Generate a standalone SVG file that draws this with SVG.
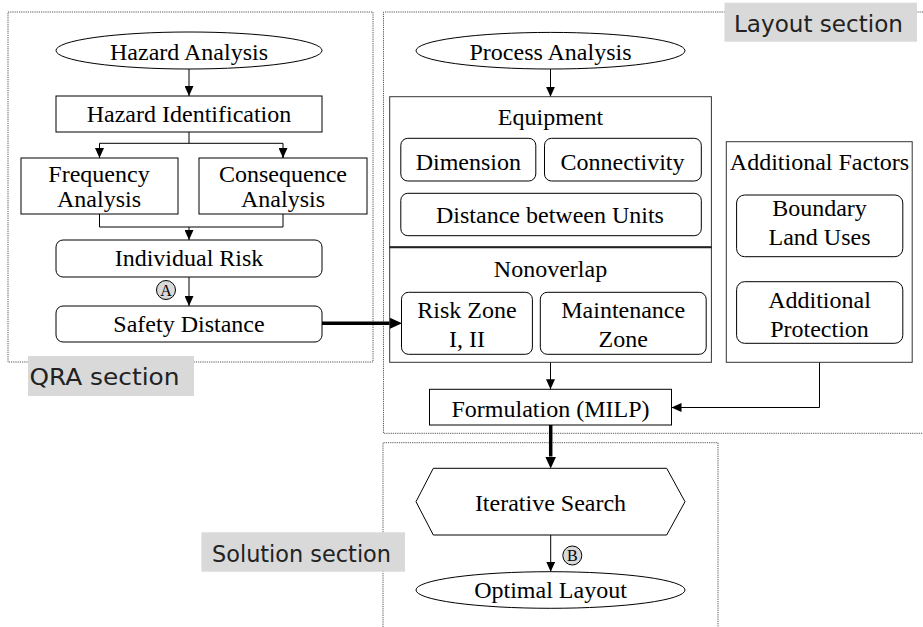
<svg xmlns="http://www.w3.org/2000/svg" width="923" height="627" viewBox="0 0 923 627">
  <defs>
    <marker id="arrow" viewBox="0 0 10 9" refX="10" refY="4.5" markerWidth="10" markerHeight="9" markerUnits="userSpaceOnUse" orient="auto">
      <path d="M0,0 L10,4.5 L0,9 z" fill="#000"/>
    </marker>
    <marker id="arrowBold" viewBox="0 0 12 11" refX="0" refY="5.5" markerWidth="12" markerHeight="11" markerUnits="userSpaceOnUse" orient="auto">
      <path d="M0,0 L12,5.5 L0,11 z" fill="#000"/>
    </marker>
  </defs>
  <style>
    .box { fill: #fff; stroke: #000; stroke-width: 1; }
    .frame { fill: none; stroke: #333; stroke-width: 1; }
    .section { fill: none; stroke: #555; stroke-width: 1; stroke-dasharray: 1.2 1; }
    .tag { fill: #d9d9d9; stroke: none; }
    .tagText { font-family: "DejaVu Sans", "Liberation Sans", sans-serif; font-size: 23px; fill: #222; }
    .t { font-family: "Liberation Serif", "Times New Roman", serif; font-size: 24px; fill: #000; text-anchor: middle; }
    .mark { fill: #d9d9d9; stroke: #000; stroke-width: 1; }
    .markText { font-family: "Liberation Serif", "Times New Roman", serif; font-size: 16px; fill: #000; text-anchor: middle; }
    .link { fill: none; stroke: #000; stroke-width: 1; }
    .bold { fill: none; stroke: #000; stroke-width: 3.5; }
  </style>

  <!-- dotted section frames -->
  <g id="sections">
    <rect class="section" x="8" y="12" width="365" height="350"/>
    <path class="section" d="M923,12 H383.5 V433.3 H923"/>
    <path class="section" d="M383,627 V442.7 H718 V627"/>
  </g>

  <!-- connectors -->
  <g id="connectors">
    <line class="link" x1="189" y1="69" x2="189" y2="96" marker-end="url(#arrow)"/>
    <path class="link" d="M189,132 V143.3"/>
    <path class="link" d="M99.5,158 V143.3 H283 V158" />
    <line class="link" x1="99.5" y1="150" x2="99.5" y2="158" marker-end="url(#arrow)"/>
    <line class="link" x1="283" y1="150" x2="283" y2="158" marker-end="url(#arrow)"/>
    <path class="link" d="M99.5,214 V227 H283 V214"/>
    <line class="link" x1="189" y1="227" x2="189" y2="240" marker-end="url(#arrow)"/>
    <line class="link" x1="189" y1="277" x2="189" y2="306" marker-end="url(#arrow)"/>
    <line class="bold" x1="322" y1="323.3" x2="390" y2="323.3" marker-end="url(#arrowBold)"/>
    <line class="link" x1="550.5" y1="69" x2="550.5" y2="96.7" marker-end="url(#arrow)"/>
    <line class="link" x1="550.5" y1="362.3" x2="550.5" y2="389.3" marker-end="url(#arrow)"/>
    <path class="link" d="M819.5,362.3 V407.5 H671.5" marker-end="url(#arrow)"/>
    <line class="bold" x1="550.7" y1="425" x2="550.7" y2="456.5" marker-end="url(#arrowBold)"/>
    <line class="link" x1="550.7" y1="535" x2="550.7" y2="571.7" marker-end="url(#arrow)"/>
  </g>

  <!-- QRA section -->
  <g id="hazard-analysis">
    <ellipse class="box" cx="189" cy="50.5" rx="133" ry="18.5"/>
    <text class="t" x="189" y="60">Hazard Analysis</text>
  </g>
  <g id="hazard-identification">
    <rect class="box" x="56" y="96" width="266" height="36"/>
    <text class="t" x="189" y="121.7">Hazard Identification</text>
  </g>
  <g id="frequency-analysis">
    <rect class="box" x="21" y="158" width="157" height="56"/>
    <text class="t" x="99" y="181.7">Frequency</text>
    <text class="t" x="99" y="206.5">Analysis</text>
  </g>
  <g id="consequence-analysis">
    <rect class="box" x="199" y="158" width="168" height="56"/>
    <text class="t" x="283" y="181.7">Consequence</text>
    <text class="t" x="283" y="206.5">Analysis</text>
  </g>
  <g id="individual-risk">
    <rect class="box" x="56" y="240" width="266" height="37" rx="7"/>
    <text class="t" x="189" y="266">Individual Risk</text>
  </g>
  <g id="mark-a">
    <circle class="mark" cx="166" cy="290" r="9.5"/>
    <text class="markText" x="166" y="295.5">A</text>
  </g>
  <g id="safety-distance">
    <rect class="box" x="56" y="306" width="266" height="36" rx="7"/>
    <text class="t" x="189" y="331.7">Safety Distance</text>
  </g>
  <g id="qra-tag">
    <rect class="tag" x="28" y="356" width="166" height="40"/>
    <text class="tagText" x="29.5" y="385" textLength="150" lengthAdjust="spacingAndGlyphs">QRA section</text>
  </g>

  <!-- Layout section -->
  <g id="layout-tag">
    <rect class="tag" x="724.5" y="2.7" width="192.5" height="39"/>
    <text class="tagText" x="734" y="31.7" textLength="169" lengthAdjust="spacingAndGlyphs">Layout section</text>
  </g>
  <g id="process-analysis">
    <ellipse class="box" cx="550.5" cy="50.7" rx="134.5" ry="18.3"/>
    <text class="t" x="550.5" y="60">Process Analysis</text>
  </g>
  <g id="equipment">
    <rect class="frame" x="389.7" y="96.7" width="321.7" height="150.6"/>
    <text class="t" x="550.5" y="125">Equipment</text>
  </g>
  <g id="dimension">
    <rect class="box" x="400.8" y="138.3" width="135" height="42.7" rx="7"/>
    <text class="t" x="468.3" y="170">Dimension</text>
  </g>
  <g id="connectivity">
    <rect class="box" x="544.5" y="138.3" width="156.8" height="42.7" rx="7"/>
    <text class="t" x="622.5" y="170">Connectivity</text>
  </g>
  <g id="distance-between-units">
    <rect class="box" x="400.8" y="193.3" width="300.5" height="42.4" rx="7"/>
    <text class="t" x="550" y="223.3">Distance between Units</text>
  </g>
  <g id="nonoverlap">
    <rect class="frame" x="389.7" y="247.3" width="321.7" height="115"/>
    <line x1="389.7" y1="247.3" x2="711.4" y2="247.3" stroke="#222" stroke-width="2"/>
    <text class="t" x="550.5" y="276.7">Nonoverlap</text>
  </g>
  <g id="risk-zone">
    <rect class="box" x="401.5" y="292.3" width="130.9" height="62" rx="7"/>
    <text class="t" x="467" y="318.3">Risk Zone</text>
    <text class="t" x="467" y="346.7">I, II</text>
  </g>
  <g id="maintenance-zone">
    <rect class="box" x="540.3" y="292.3" width="165.9" height="62" rx="7"/>
    <text class="t" x="623.2" y="318.3">Maintenance</text>
    <text class="t" x="623.2" y="346.7">Zone</text>
  </g>
  <g id="additional-factors">
    <rect class="frame" x="726.3" y="141.7" width="185.9" height="220.6"/>
    <text class="t" x="819.5" y="170">Additional Factors</text>
  </g>
  <g id="boundary-land-uses">
    <rect class="box" x="736.6" y="195" width="166.2" height="61.7" rx="8"/>
    <text class="t" x="819.5" y="216">Boundary</text>
    <text class="t" x="819.5" y="245">Land Uses</text>
  </g>
  <g id="additional-protection">
    <rect class="box" x="736.6" y="281.7" width="166.2" height="61.6" rx="8"/>
    <text class="t" x="819.5" y="308.3">Additional</text>
    <text class="t" x="819.5" y="336.7">Protection</text>
  </g>
  <g id="formulation">
    <rect class="box" x="429.5" y="389.3" width="242" height="35.7"/>
    <text class="t" x="550.5" y="416.7">Formulation (MILP)</text>
  </g>

  <!-- Solution section -->
  <g id="solution-tag">
    <rect class="tag" x="201.4" y="532.3" width="203.6" height="39.4"/>
    <text class="tagText" x="212" y="561.7" textLength="179" lengthAdjust="spacingAndGlyphs">Solution section</text>
  </g>
  <g id="iterative-search">
    <polygon class="box" points="416,501.7 433.3,468.3 666.7,468.3 685,501.7 666.7,535 433.3,535"/>
    <text class="t" x="550.5" y="510.7">Iterative Search</text>
  </g>
  <g id="mark-b">
    <circle class="mark" cx="572.3" cy="555.5" r="9.5"/>
    <text class="markText" x="572.3" y="561">B</text>
  </g>
  <g id="optimal-layout">
    <ellipse class="box" cx="550.5" cy="590" rx="134.5" ry="18.3"/>
    <text class="t" x="550.5" y="598.3">Optimal Layout</text>
  </g>
</svg>
